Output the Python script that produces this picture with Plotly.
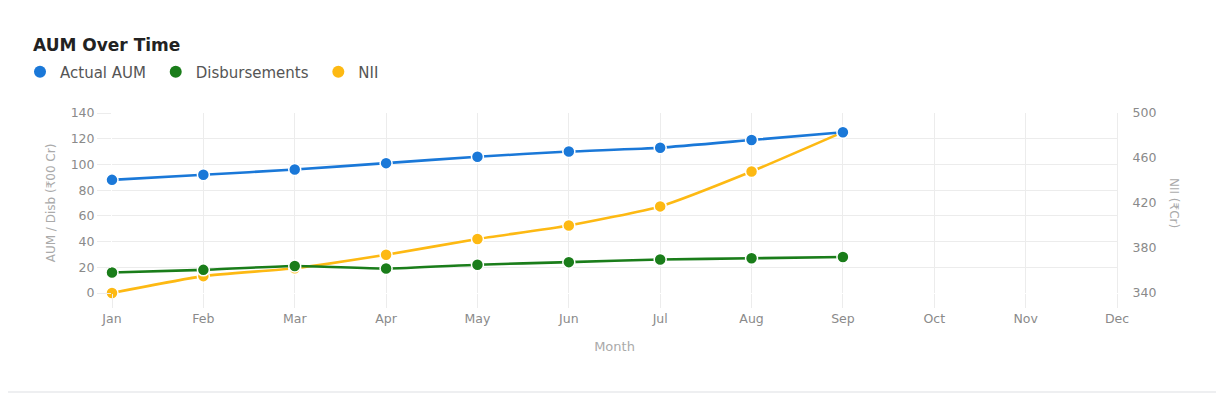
import plotly.graph_objects as go

months = ["Jan", "Feb", "Mar", "Apr", "May", "Jun", "Jul", "Aug", "Sep", "Oct", "Nov", "Dec"]
actual_aum = [88, 92, 96, 101, 106, 110, 113, 119, 125]
disbursements = [16, 18, 21, 19, 22, 24, 26, 27, 28]
nii = [340, 355, 362, 374, 388, 400, 417, 448, 483]

left_ticks = [0, 20, 40, 60, 80, 100, 120, 140]
right_ticks = [340, 380, 420, 460, 500]

BLUE = "#1a78d8"
GREEN = "#1a7d1a"
YELLOW = "#fdb913"
FONT = "DejaVu Sans, sans-serif"

OFF = 8  # page body margin
W, H = 1224 - OFF, 393 - OFF
L = 112 - OFF
T = 113 - OFF
R = W - (1117 - OFF)
B = H - (293 - OFF)
PW, PH = W - L - R, H - T - B

def px(x):
    return (x - OFF - L) / PW

def py(y):
    return (H - B - (y - OFF)) / PH

fig = go.Figure()

def series(name, y, color, axis):
    return go.Scatter(
        x=months[:len(y)], y=y, name=name, yaxis=axis, mode="lines+markers",
        line=dict(color=color, width=2.6, shape="spline", smoothing=0.5),
        marker=dict(color=color, size=12, line=dict(color="white", width=1.5)),
        showlegend=False, hoverinfo="x+y+name", cliponaxis=False,
    )

# NII on primary (right) axis so AUM/Disb overlay draws above it
fig.add_trace(series("NII", nii, YELLOW, "y"))
fig.add_trace(series("Disbursements", disbursements, GREEN, "y2"))
fig.add_trace(series("Actual AUM", actual_aum, BLUE, "y2"))

# legend entries (markers only)
for name, color in [("Actual AUM\u00a0", BLUE), ("Disbursements\u00a0", GREEN), ("NII", YELLOW)]:
    fig.add_trace(go.Scatter(x=[None], y=[None], name=name, mode="markers",
                             marker=dict(color=color, size=12), yaxis="y2"))

tickfont = dict(family=FONT, size=12.5, color="#8a8a8a")
gridc = "#ececec"

fig.update_layout(
    width=W, height=H,
    margin=dict(l=L, r=R, t=T, b=B),
    paper_bgcolor="#eeeff1",
    plot_bgcolor="white",
    font=dict(family=FONT),
    title=dict(text="<b>AUM Over Time</b>", x=(33 - OFF) / W, xanchor="left", xref="container",
               y=1 - (45 - OFF) / H, yanchor="middle", yref="container",
               font=dict(family=FONT, size=17, color="#222")),
    legend=dict(orientation="h", x=(20 - OFF) / W, xanchor="left", xref="container",
                y=1 - (72 - OFF) / H, yanchor="middle", yref="container",
                font=dict(family=FONT, size=15, color="#555"),
                itemwidth=30, bgcolor="rgba(0,0,0,0)"),
    xaxis=dict(
        type="category", categoryorder="array", categoryarray=months,
        range=[0, 11], showgrid=True, gridcolor=gridc, gridwidth=1,
        ticks="outside", ticklen=14, tickcolor=gridc, tickfont=tickfont,
        showline=False, zeroline=False,
        title=dict(text="Month", font=dict(family=FONT, size=13, color="#aaaaaa"), standoff=16),
    ),
    yaxis=dict(
        side="right", range=[340, 500], tickvals=right_ticks,
        showgrid=False, zeroline=False, showline=True, linecolor=gridc,
        ticks="outside", ticklen=12, tickcolor="rgba(0,0,0,0)", tickfont=tickfont,
    ),
    yaxis2=dict(
        side="left", overlaying="y", range=[0, 140], tickvals=left_ticks,
        showgrid=True, gridcolor=gridc, gridwidth=1, zeroline=False,
        ticks="outside", ticklen=14, tickcolor=gridc, tickfont=tickfont,
        title=dict(text="AUM / Disb (₹00 Cr)", font=dict(family=FONT, size=12, color="#aaaaaa"), standoff=12),
    ),
    annotations=[dict(
        text="NII (₹Cr)", textangle=90, xref="paper", yref="paper",
        x=px(1183), y=0.5, showarrow=False,
        font=dict(family=FONT, size=12, color="#aaaaaa"),
    )],
    shapes=[dict(
        type="rect", xref="paper", yref="paper", layer="below",
        x0=px(-10), x1=px(1240), y0=py(391), y1=py(-10),
        fillcolor="white", line=dict(width=0),
    )],
)

fig.write_html("out.html")
